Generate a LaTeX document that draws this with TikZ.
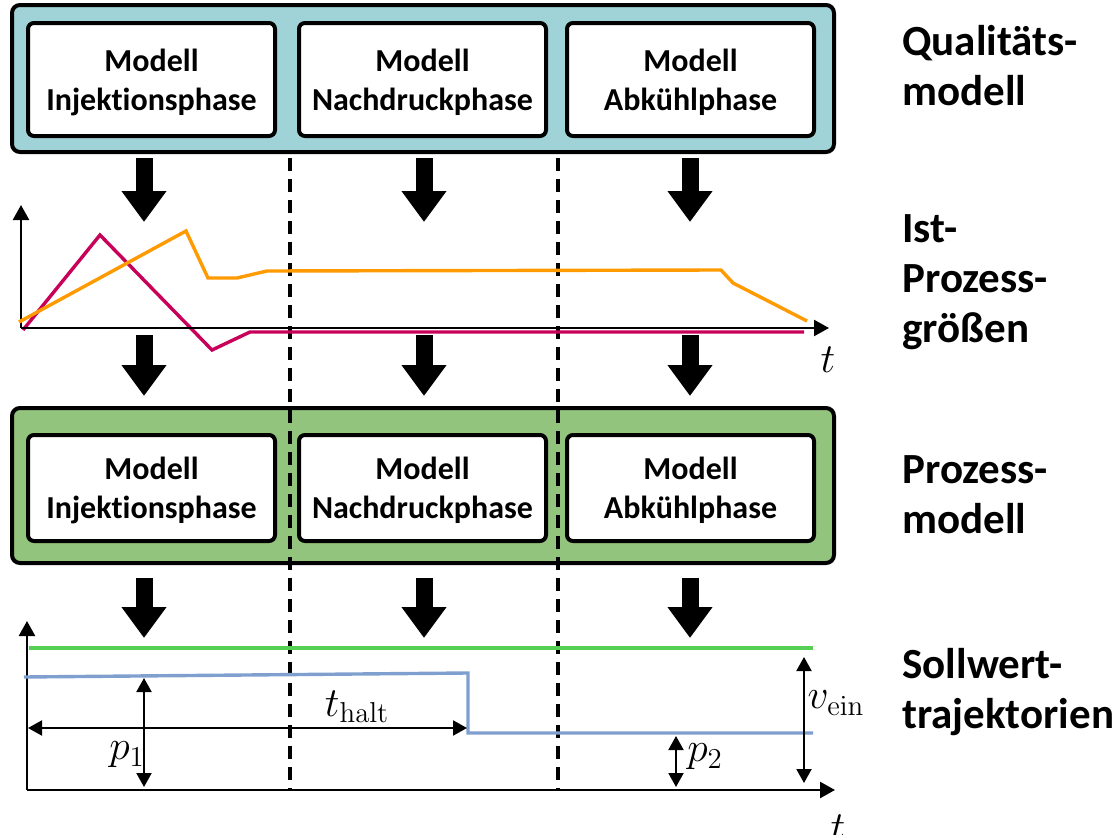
\documentclass[tikz,border=0pt]{standalone}
\usepackage[no-math]{fontspec}
\setmainfont[Ligatures={NoCommon}]{Carlito}
\usetikzlibrary{arrows.meta}
\definecolor{cyanfill}{HTML}{9FD3D7}
\definecolor{greenfill}{HTML}{93C47D}
\definecolor{orangeline}{HTML}{FF9A00}
\definecolor{magline}{HTML}{C8005A}
\definecolor{greenline}{HTML}{55D055}
\definecolor{blueline}{HTML}{7F9FCF}
\begin{document}
\begin{tikzpicture}[x=0.5pt,y=-0.5pt,
  outerbox/.style={draw, line width=2pt, rounded corners=4pt, minimum width=411pt},
  inbox/.style={draw, fill=white, line width=2pt, rounded corners=3pt, minimum width=123.5pt,
    align=center, font=\bfseries\fontsize{16}{19.5}\selectfont, inner sep=0pt, text depth=0pt},
  side/.style={anchor=base west, inner sep=0pt, font=\bfseries\fontsize{21.5}{25}\selectfont},
  blockarrow/.style={line width=8.5pt, -{Triangle[length=15.5pt,width=21.5pt]}},
  axis/.style={line width=1.2pt, -{Triangle[length=7.5pt,width=8pt]}},
  dim/.style={line width=1pt, {Triangle[length=7pt,width=7.5pt]}-{Triangle[length=7pt,width=7.5pt]}},
  phaseline/.style={line width=1.8pt, dash pattern=on 6.5pt off 4pt},
  mlabel/.style={inner sep=0pt, font=\fontsize{22}{26}\selectfont},
  curve/.style={line width=1.7pt, line join=miter}
]
\useasboundingbox (0,0) rectangle (1115,835);

% --- Qualitaetsmodell
\node[outerbox, fill=cyanfill, minimum height=73.5pt] (qm) at (423,78.5) {};
\node[inbox, minimum height=56.5pt] (q1) at (151.5,79.5) {Modell\\Injektionsphase};
\node[inbox, minimum height=56.5pt] (q2) at (422.5,79.5) {Modell\\Nachdruckphase};
\node[inbox, minimum height=56.5pt] (q3) at (690.5,79.5) {Modell\\Abkühlphase};

% --- Prozessmodell
\node[outerbox, fill=greenfill, minimum height=77.5pt] (pm) at (423,485.5) {};

% phase separators
\coordinate (d1a) at (290,158); \coordinate (d1b) at (290,790);
\coordinate (d2a) at (558,158); \coordinate (d2b) at (558,790);
\draw[phaseline] (d1a) -- (d1b);
\draw[phaseline] (d2a) -- (d2b);

\node[inbox, minimum height=53pt] (p1) at (151.5,488) {Modell\\Injektionsphase};
\node[inbox, minimum height=53pt] (p2) at (422.5,488) {Modell\\Nachdruckphase};
\node[inbox, minimum height=53pt] (p3) at (690.5,488) {Modell\\Abkühlphase};

% --- block arrows
\foreach \i/\x in {1/144,2/424,3/690}{
  \coordinate (ra\i) at (\x,158); \coordinate (rb\i) at (\x,222);
  \coordinate (rc\i) at (\x,335); \coordinate (rd\i) at (\x,396);
  \coordinate (re\i) at (\x,578); \coordinate (rf\i) at (\x,638);
  \draw[blockarrow] (ra\i) -- (rb\i);
  \draw[blockarrow] (rc\i) -- (rd\i);
  \draw[blockarrow] (re\i) -- (rf\i);
}

% --- Ist-Prozessgroessen chart
\coordinate (o1) at (21,328);
\coordinate (y1) at (21,205);
\coordinate (x1) at (829,328);
\draw[curve, magline] (23,330) -- (100,235) -- (212,350) -- (250,332) -- (804,332);
\draw[axis] (o1) -- (y1);
\draw[axis] (o1) -- (x1);
\draw[curve, orangeline] (19,322) -- (186,231) -- (208,278) -- (237,278) -- (267,271) -- (721,270) -- (733,283) -- (807,321);
\node[mlabel] (t1) at (828,360) {$t$};

% --- Sollwerttrajektorien chart
\coordinate (o2) at (27,790);
\coordinate (y2) at (27,621);
\coordinate (x2) at (835,790);
\draw[axis] (o2) -- (y2);
\draw[axis] (o2) -- (x2);
\draw[line width=1.7pt, greenline] (29,648) -- (813,648);
\draw[line width=1.7pt, blueline] (24,677) -- (468,673) -- (468,733) -- (813,733);

\coordinate (p1a) at (144,678); \coordinate (p1b) at (144,787);
\coordinate (tha) at (28,728);  \coordinate (thb) at (467,728);
\coordinate (p2a) at (676,736); \coordinate (p2b) at (676,787);
\coordinate (vea) at (804,657); \coordinate (veb) at (804,783);
\draw[dim] (p1a) -- (p1b);
\draw[dim] (tha) -- (thb);
\draw[dim] (p2a) -- (p2b);
\draw[dim] (vea) -- (veb);
\node[mlabel] (lp1) at (127,755) {$p_1$};
\node[mlabel] (lth) at (357,707) {$t_{\mathrm{halt}}$};
\node[mlabel] (lp2) at (705,757) {$p_2$};
\node[mlabel] (lve) at (836,703) {$v_{\mathrm{ein}}$};
\node[mlabel] (t2) at (838,828) {$t$};

% --- side labels
\node[side] (s1a) at (902,55) {Qualitäts-};
\node[side] (s1b) at (902,105) {modell};
\node[side] (s2a) at (902,242) {Ist-};
\node[side] (s2b) at (902,292) {Prozess-};
\node[side] (s2c) at (902,342) {größen};
\node[side] (s3a) at (902,483) {Prozess-};
\node[side] (s3b) at (902,533) {modell};
\node[side] (s4a) at (902,678) {Sollwert-};
\node[side] (s4b) at (902,728) {trajektorien};
\end{tikzpicture}
\end{document}
